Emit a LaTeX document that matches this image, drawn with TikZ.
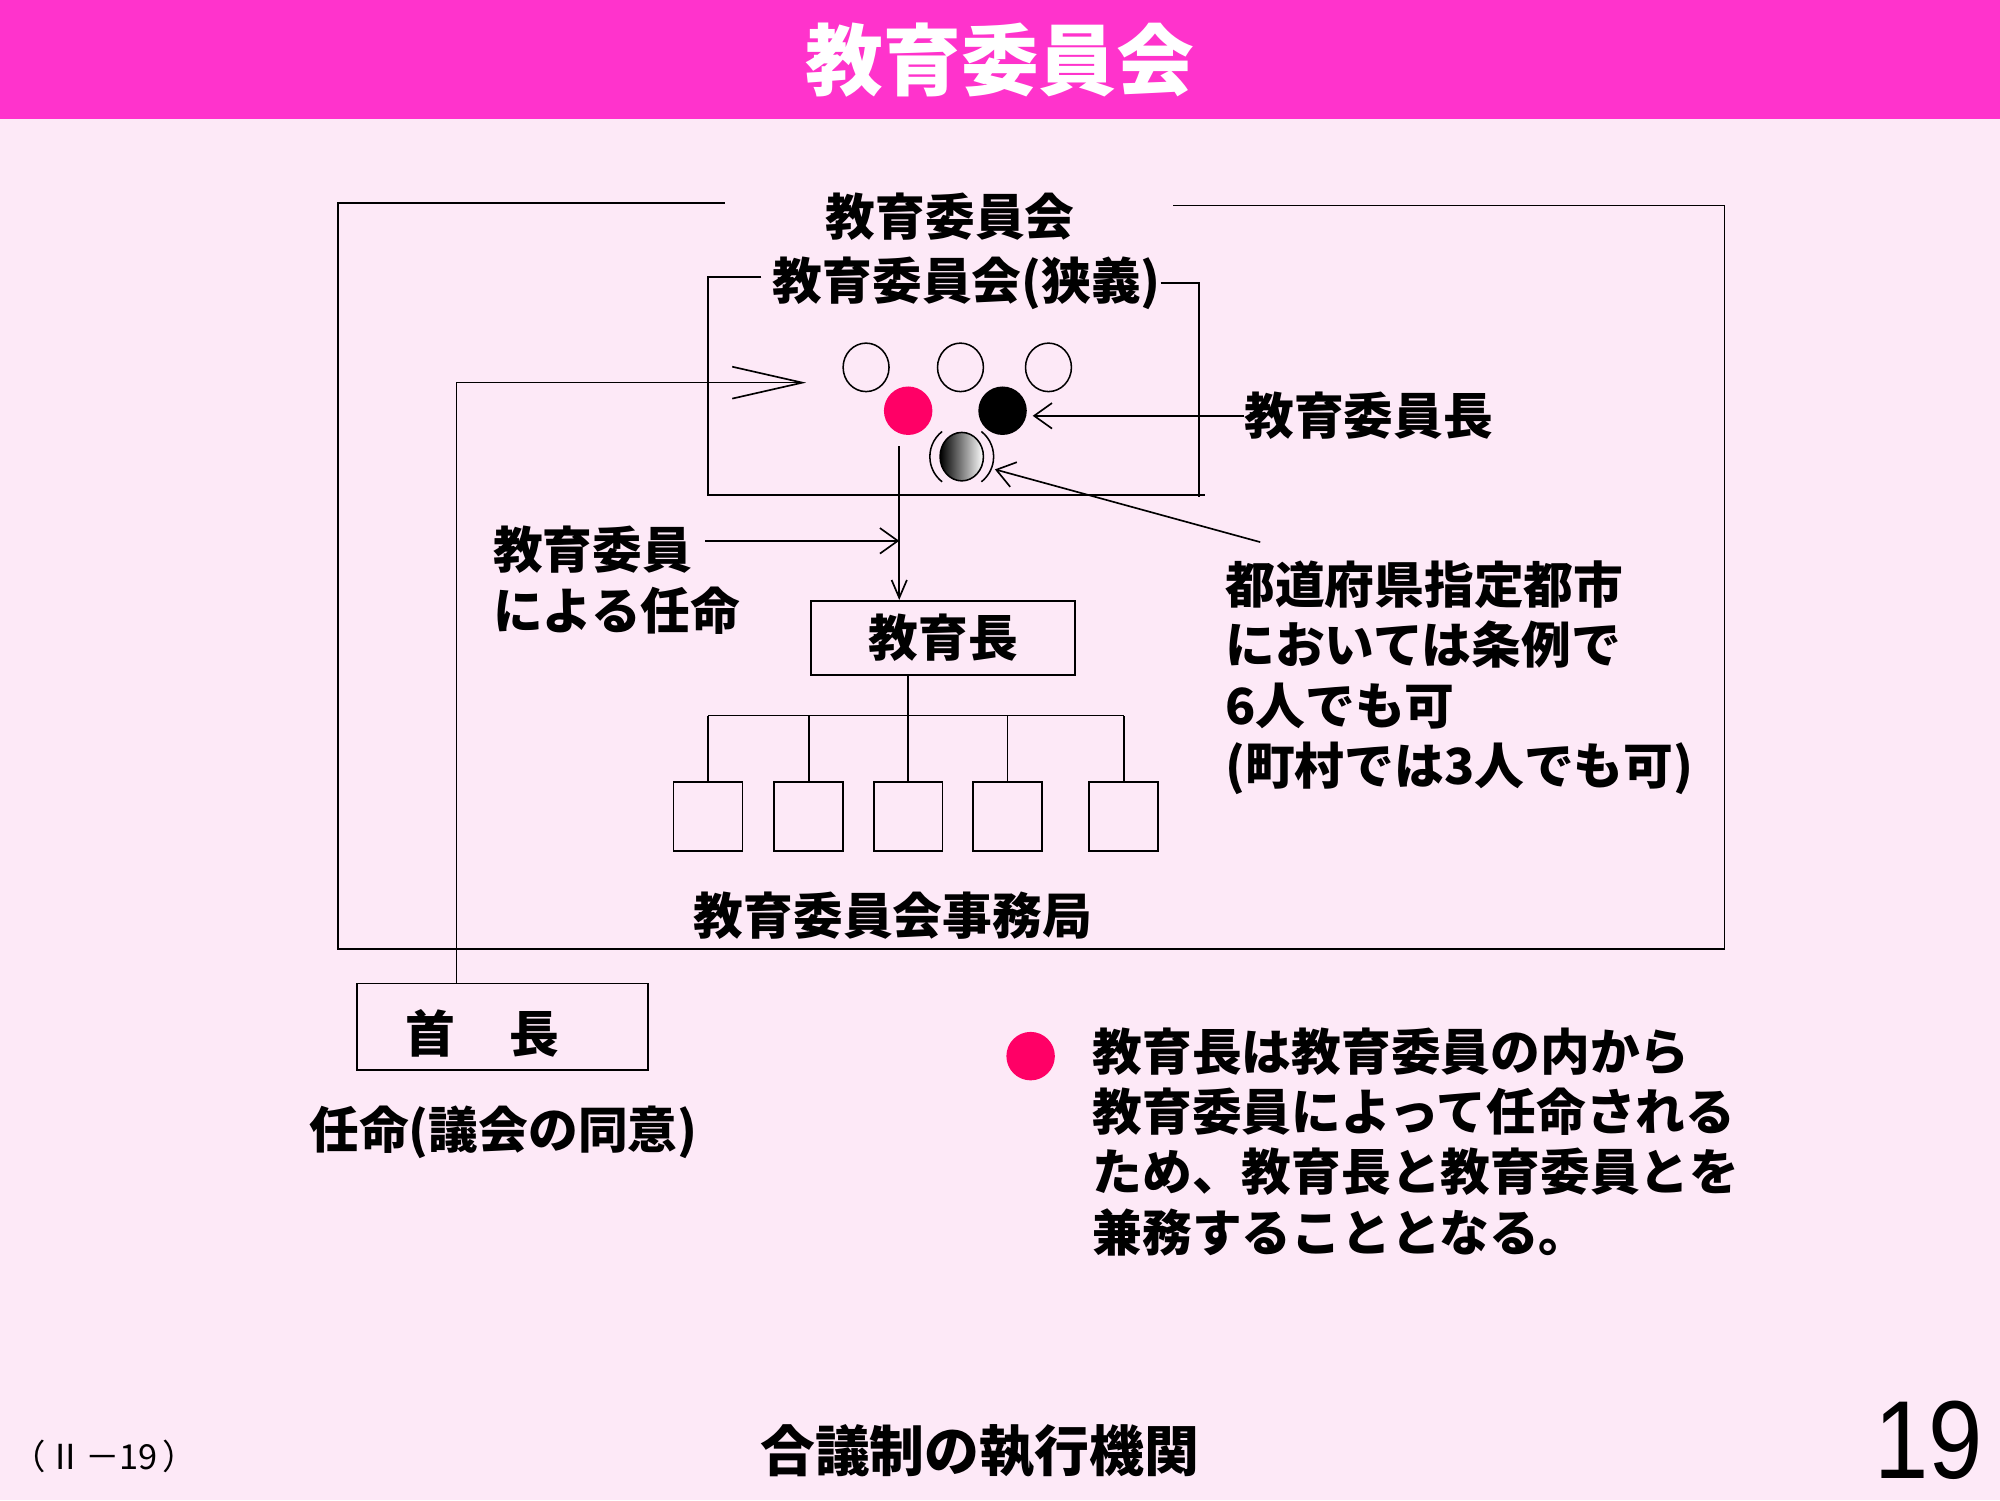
\documentclass[tikz,border=0pt]{standalone}
\usepackage{fontspec}
\setmainfont{Noto Sans CJK JP}
\newfontfamily\arialf{Liberation Sans}
\usetikzlibrary{arrows.meta,shapes.geometric}
\definecolor{bgpink}{HTML}{FDE9F7}
\definecolor{headpink}{HTML}{FF33CC}
\definecolor{dotred}{HTML}{FF0066}
\begin{document}
\begin{tikzpicture}[x=1pt,y=-1pt,line width=1.3pt,
  jp/.style={font=\fontsize{39}{47.3}\selectfont\bfseries,inner sep=0pt},
  para/.style={jp,align=left,anchor=north west},
  stepbox/.style={draw,inner sep=0pt,minimum width=54pt,minimum height=54pt},
  bigbox/.style={draw,inner sep=0pt,jp},
  opencirc/.style={ellipse,draw,line width=1.2pt,minimum width=36pt,minimum height=38pt,inner sep=0pt},
  fillcirc/.style={ellipse,minimum width=38pt,minimum height=38pt,inner sep=0pt},
  arr/.style={-{Straight Barb[length=14pt,width=20pt]}},
  smallarr/.style={-{Straight Barb[length=14pt,width=12pt]}},
  bigarr/.style={-{Straight Barb[length=55pt,width=25pt]}}]
\useasboundingbox (0,0) rectangle (1568,1176);
\fill[bgpink] (0,0) rectangle (1568,1176);
\fill[headpink] (0,0) rectangle (1568,93);
\node[font=\fontsize{61}{70}\selectfont\bfseries,text=white,inner sep=0pt] (title) at (784,47) {教育委員会};

% outer frame
\coordinate (o1) at (568,159);
\coordinate (o2) at (265,159);
\coordinate (o3) at (265,744);
\coordinate (o4) at (1352,744);
\coordinate (o5) at (1352,161);
\coordinate (o6) at (920,161);
\draw (o1) -- (o2) -- (o3) -- (o4) -- (o5) -- (o6);
% inner frame
\coordinate (i1) at (597,217);
\coordinate (i2) at (555,217);
\coordinate (i3) at (555,388);
\coordinate (i4) at (945,388);
\coordinate (i5) at (910,222);
\coordinate (i6) at (940,222);
\coordinate (i7) at (940,390);
\draw (i1) -- (i2) -- (i3) -- (i4);
\draw (i5) -- (i6) -- (i7);

\node[jp] (lbig) at (745,170) {教育委員会};
\node[jp] (lnarrow) at (758,222) {教育委員会(狭義)};

% members
\node[opencirc] (c1) at (679,288) {};
\node[opencirc] (c2) at (753,288) {};
\node[opencirc] (c3) at (822,288) {};
\node[fillcirc,fill=dotred] (cr) at (712,322) {};
\node[fillcirc,fill=black] (cb) at (786,322) {};
\node[fillcirc,draw,line width=1.2pt,left color=black,right color=white,minimum width=34pt] (cg) at (754,358) {};
\draw[line width=1.2pt] ([shift={(128:25pt)}]cg.center) arc[start angle=128,end angle=232,radius=25pt];
\draw[line width=1.2pt] ([shift={(52:25pt)}]cg.center) arc[start angle=52,end angle=-52,radius=25pt];

% labels on the right
\node[jp,anchor=west] (lchair) at (975,326) {教育委員長};
\node[para] (lcond) at (960,439) {都道府県指定都市\\においては条例で\\6人でも可\\(町村では3人でも可)};
\node[para] (lappoint) at (386,412) {教育委員\\による任命};

% 教育長 and secretariat
\node[bigbox,minimum width=207pt,minimum height=58pt] (ek) at (739.5,500) {教育長\hspace{14pt}};
\node[stepbox] (b1) at (555,640) {};
\node[stepbox] (b2) at (634,640) {};
\node[stepbox] (b3) at (712,640) {};
\node[stepbox] (b4) at (790,640) {};
\node[stepbox] (b5) at (881,640) {};
\node[jp] (lsec) at (700,718) {教育委員会事務局};
\coordinate (bus) at (712,561);
\draw (b3.north) -- (b3.north |- ek.south);
\draw (b1.north |- bus) -- (b5.north |- bus);
\foreach \b in {b1,b2,b4,b5} \draw (\b.north) -- (\b.north |- bus);

% 首長
\node[draw,inner sep=0pt,minimum width=228pt,minimum height=68pt] (sc) at (394,805) {};
\node[jp] (lsc) at (378,810) {首\hspace{1.1em}長};
\node[jp,anchor=west] (lmayor) at (242,888) {任命(議会の同意)};

% connectors
\coordinate (apin) at (358,300);
\coordinate (aptip) at (632,300);
\draw[bigarr] (sc.north -| apin) -- (apin) -- (aptip);
\draw[arr] ([yshift=-4pt]cb.east -| lchair.west) -- ([xshift=4pt,yshift=-4pt]cb.east);
\coordinate (condstart) at (988,425);
\coordinate (condtip) at (780,368);
\draw[arr] (condstart) -- (condtip);
\coordinate (vtop) at (705,350);
\draw[smallarr] (vtop) -- (ek.north -| vtop);
\coordinate (a5s) at (553,424);
\draw[arr] (a5s) -- (vtop |- a5s);

% note
\node[circle,fill=dotred,minimum size=38pt,inner sep=0pt] (dot) at (808,828) {};
\node[para] (lnote) at (856,805) {教育長は教育委員の内から\\教育委員によって任命される\\ため、教育長と教育委員とを\\兼務することとなる。};

% footer
\node[font=\fontsize{27}{30}\selectfont,anchor=west,inner sep=0pt] (fref) at (8,1142) {（\hspace{2pt}Ⅱ\hspace{2pt}－19\hspace{4pt}）};
\node[font=\fontsize{43}{50}\selectfont\bfseries,inner sep=0pt] (ftitle) at (768,1138) {合議制の執行機関};
\node[font=\fontsize{87}{90}\selectfont\arialf,inner sep=0pt,xscale=0.88] (fnum) at (1512,1129) {19};
\end{tikzpicture}
\end{document}
